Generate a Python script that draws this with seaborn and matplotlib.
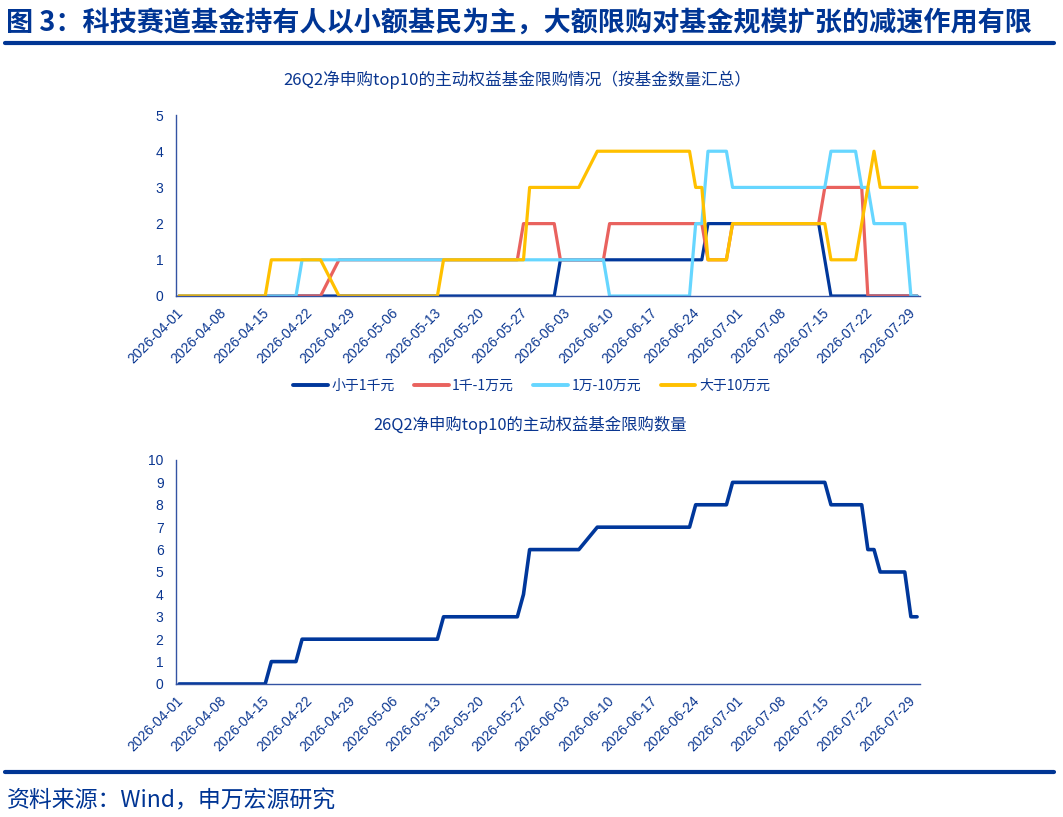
import pandas as pd
import matplotlib
matplotlib.use('Agg')
import matplotlib.pyplot as plt
import matplotlib.dates as mdates
from matplotlib.lines import Line2D
import seaborn as sns

# trading days 2026-04-01 .. 2026-07-30 (weekends and CN holidays removed)
holidays = ['2026-04-06', '2026-05-01', '2026-05-04', '2026-05-05', '2026-06-19']
dates = pd.bdate_range('2026-04-01', '2026-07-30', freq='C', holidays=holidays)

series_names = ['小于1千元', '1千-1万元', '1万-10万元', '大于10万元']
series_colors = ['#00379B', '#E9625E', '#66D6FF', '#FFC000']

# values per trading day, one row per week
lt_1k = [0, 0, 0,
         0, 0, 0, 0,
         0, 0, 0, 0, 0,
         0, 0, 0, 0, 0,
         0, 0, 0, 0,
         0, 0, 0,
         0, 0, 0, 0, 0,
         0, 0, 0, 0, 0,
         0, 0, 0, 0, 0,
         0, 1, 1, 1, 1,
         1, 1, 1, 1, 1,
         1, 1, 1, 1,
         1, 1, 1, 1, 2,
         2, 2, 2, 2, 2,
         2, 2, 2, 2, 2,
         2, 2, 1, 0, 0,
         0, 0, 0, 0, 0,
         0, 0, 0, 0]
k1_10k = [0, 0, 0,
          0, 0, 0, 0,
          0, 0, 0, 0, 0,
          0, 0, 0, 0, 0,
          1, 1, 1, 1,
          1, 1, 1,
          1, 1, 1, 1, 1,
          1, 1, 1, 1, 1,
          1, 1, 2, 2, 2,
          2, 1, 1, 1, 1,
          1, 1, 2, 2, 2,
          2, 2, 2, 2,
          2, 2, 2, 2, 1,
          1, 2, 2, 2, 2,
          2, 2, 2, 2, 2,
          2, 2, 3, 3, 3,
          3, 3, 0, 0, 0,
          0, 0, 0, 0]
k10_100k = [0, 0, 0,
            0, 0, 0, 0,
            0, 0, 0, 0, 0,
            0, 1, 1, 1, 1,
            1, 1, 1, 1,
            1, 1, 1,
            1, 1, 1, 1, 1,
            1, 1, 1, 1, 1,
            1, 1, 1, 1, 1,
            1, 1, 1, 1, 1,
            1, 1, 0, 0, 0,
            0, 0, 0, 0,
            0, 0, 2, 2, 4,
            4, 3, 3, 3, 3,
            3, 3, 3, 3, 3,
            3, 3, 3, 4, 4,
            4, 3, 3, 2, 2,
            2, 2, 0, 0]
gt_100k = [0, 0, 0,
           0, 0, 0, 0,
           0, 0, 0, 1, 1,
           1, 1, 1, 1, 1,
           0, 0, 0, 0,
           0, 0, 0,
           0, 0, 0, 1, 1,
           1, 1, 1, 1, 1,
           1, 1, 1, 3, 3,
           3, 3, 3, 3, 3,
           4, 4, 4, 4, 4,
           4, 4, 4, 4,
           4, 4, 3, 3, 1,
           1, 2, 2, 2, 2,
           2, 2, 2, 2, 2,
           2, 2, 2, 1, 1,
           1, 2, 3, 4, 3,
           3, 3, 3, 3]
total = [0, 0, 0,
         0, 0, 0, 0,
         0, 0, 0, 1, 1,
         1, 2, 2, 2, 2,
         2, 2, 2, 2,
         2, 2, 2,
         2, 2, 2, 3, 3,
         3, 3, 3, 3, 3,
         3, 3, 4, 6, 6,
         6, 6, 6, 6, 6,
         7, 7, 7, 7, 7,
         7, 7, 7, 7,
         7, 7, 8, 8, 8,
         8, 9, 9, 9, 9,
         9, 9, 9, 9, 9,
         9, 9, 9, 8, 8,
         8, 8, 6, 6, 5,
         5, 5, 3, 3]

tick_dates = pd.date_range('2026-04-01', '2026-07-29', freq='7D')

text_blue = '#0A3690'
cjk = ['Noto Sans CJK SC', 'DejaVu Sans']
latin = ['Liberation Sans', 'DejaVu Sans']

sns.set_style('white')
plt.rcParams['font.family'] = cjk
plt.rcParams['axes.unicode_minus'] = False

# points sit in the middle of each day, like the date axis of the source
xpos = dates + pd.Timedelta(hours=12)
all_values = [lt_1k, k1_10k, k10_100k, gt_100k]
df = pd.concat([pd.DataFrame({'date': xpos, 'value': v, 'series': s})
                for s, v in zip(series_names, all_values)], ignore_index=True)
df_total = pd.DataFrame({'date': xpos, 'value': total})

fig = plt.figure(figsize=(10.63, 8.17), dpi=100)
ax1 = fig.add_axes([0.1656, 0.6377, 0.70, 0.2215])
ax2 = fig.add_axes([0.1656, 0.1628, 0.70, 0.2742])

sns.lineplot(data=df, x='date', y='value', hue='series', hue_order=series_names,
             palette=series_colors, linewidth=2.3, ax=ax1, legend=False)
sns.lineplot(data=df_total, x='date', y='value', color='#00379B', linewidth=2.6, ax=ax2)


def style_axis(ax, ymax):
    ax.set_xlim(pd.Timestamp('2026-04-01'), pd.Timestamp('2026-07-31'))
    ax.set_ylim(0, ymax)
    ax.set_yticks(range(0, ymax + 1))
    ax.set_xticks(tick_dates)
    ax.xaxis.set_major_formatter(mdates.DateFormatter('%Y-%m-%d'))
    ax.set_xlabel('')
    ax.set_ylabel('')
    for side in ['top', 'right']:
        ax.spines[side].set_visible(False)
    for side in ['left', 'bottom']:
        ax.spines[side].set_color('#3353A3')
        ax.spines[side].set_linewidth(1.0)
    ax.tick_params(axis='x', direction='out', length=5, width=1, color='#3353A3',
                   labelsize=10, labelcolor=text_blue, pad=2)
    ax.tick_params(axis='y', direction='inout', length=6, width=1, color='#3353A3',
                   labelsize=10, labelcolor=text_blue, pad=6)
    for lab in ax.get_xticklabels():
        lab.set_rotation(45)
        lab.set_ha('right')
        lab.set_rotation_mode('anchor')
        lab.set_family(latin)
    for lab in ax.get_yticklabels():
        lab.set_family(latin)


style_axis(ax1, 5)
style_axis(ax2, 10)

handles = [Line2D([], [], color=c, linewidth=2.8) for c in series_colors]
fig.legend(handles, series_names, loc='center', bbox_to_anchor=(0.5, 0.528), ncol=4,
           frameon=False, fontsize=10, handlelength=2.5, handletextpad=0.25,
           columnspacing=1.4, labelcolor=text_blue)

fig.text(0.487, 0.902, '26Q2净申购top10的主动权益基金限购情况（按基金数量汇总）',
         ha='center', va='center', fontsize=12, color=text_blue)
fig.text(0.499, 0.480, '26Q2净申购top10的主动权益基金限购数量',
         ha='center', va='center', fontsize=11.8, color=text_blue)

fig.text(0.006, 0.972, '图 3：科技赛道基金持有人以小额基民为主，大额限购对基金规模扩张的减速作用有限',
         ha='left', va='center', fontsize=19.5, fontweight='bold', color='#003594')
fig.add_artist(Line2D([0.005, 0.992], [0.9475, 0.9475], color='#003594', linewidth=3))
fig.add_artist(Line2D([0.005, 0.992], [0.0545, 0.0545], color='#003594', linewidth=3))
fig.text(0.006, 0.020, '资料来源：Wind，申万宏源研究', ha='left', va='center',
         fontsize=16.5, color='#003594')

fig.savefig('out.png', dpi=100)
